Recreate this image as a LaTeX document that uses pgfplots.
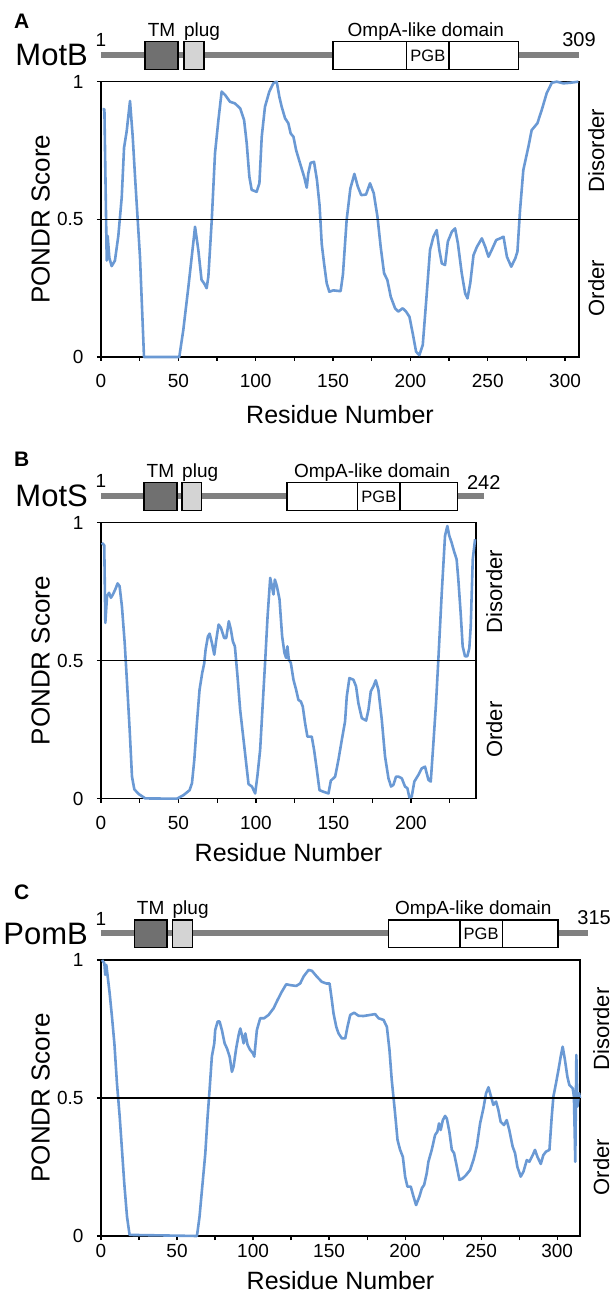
\documentclass[border=0pt]{standalone}
\usepackage{fontspec}
\setmainfont{Liberation Sans}
\usepackage{pgfplots}
\pgfplotsset{compat=1.18}
\definecolor{pondr}{RGB}{106,153,212}
\definecolor{bargray}{RGB}{128,128,128}
\definecolor{tmgray}{RGB}{112,112,112}
\definecolor{pluggray}{RGB}{212,212,212}
\newcommand\fs[1]{\fontsize{#1}{#1}\selectfont}

\pgfplotsset{
  pondrax/.style={
    scale only axis, clip=false, anchor=south west,
    ymin=0, ymax=1, xmin=0,
    ytick={0,0.5,1}, yticklabels={0,0.5,1},
    tick align=outside,
    major tick length=4pt, minor tick length=4pt,
    xtick pos=left, ytick pos=left,
    axis line style={line width=1.4pt},
    every tick/.style={black, line width=1.2pt},
    every minor tick/.style={black, line width=1.2pt},
    tick label style={font=\fs{19}},
    /pgf/number format/assume math mode=true,
    yticklabel style={xshift=-10pt},
  },
  pondrline/.style={pondr, line width=2.6pt, line join=round, no marks},
  hline/.style={black, line width=1.5pt, no marks},
}

% domain diagram: #1 bar end, #2-#3 TM, #4-#5 plug, #6-#7 OmpA, #8-#9 PGB
\newcommand\domains[9]{%
  \draw[bargray, line width=6pt] (axis cs:0,1.097) -- (axis cs:#1,1.097);
  \draw[line width=1.3pt, fill=tmgray] (axis cs:#2,1.045) rectangle (axis cs:#3,1.145);
  \draw[line width=1.3pt, fill=pluggray] (axis cs:#4,1.045) rectangle (axis cs:#5,1.145);
  \draw[line width=1.3pt, fill=white] (axis cs:#6,1.045) rectangle (axis cs:#7,1.145);
  \draw[line width=1.3pt] (axis cs:#8,1.045) -- (axis cs:#8,1.145)
                          (axis cs:#9,1.045) -- (axis cs:#9,1.145);
  \node[inner sep=0, anchor=base, font=\fs{19}] at ([yshift=5pt]axis cs:{(#2+#3)/2},1.145) {TM};
  \node[inner sep=0, anchor=base west, font=\fs{19}] at ([yshift=5pt]axis cs:#4,1.145) {plug};
  \node[inner sep=0, anchor=base, font=\fs{19}] at ([yshift=5pt]axis cs:{(#6+#7)/2},1.145) {OmpA-like domain};
  \node[inner sep=0, font=\fs{16.5}] at (axis cs:{(#8+#9)/2},1.095) {PGB};
  \node[inner sep=0, anchor=base, font=\fs{19}] at ([yshift=8pt]axis cs:0,1.097) {1};
}
% #1 right-label shift, #2 x-label baseline shift
\newcommand\sidelabels[2]{%
  \node[inner sep=0, anchor=south, rotate=90, font=\fs{26}] at ([xshift=-51pt]rel axis cs:0,0.5) {PONDR Score};
  \node[inner sep=0, anchor=base, font=\fs{25}] at ([yshift=#2]rel axis cs:0.5,0) {Residue Number};
  \node[inner sep=0, anchor=north, rotate=90, font=\fs{22}] at ([xshift=#1]rel axis cs:1,0.75) {Disorder};
  \node[inner sep=0, anchor=north, rotate=90, font=\fs{22}] at ([xshift=#1]rel axis cs:1,0.25) {Order};
}

\begin{document}
\begin{tikzpicture}
\useasboundingbox (0,0) rectangle (612pt,1303pt);

% ---------------- A: MotB
\begin{axis}[pondrax, at={(101pt,946pt)}, width=478pt, height=275.3pt,
  xmax=309, xtick={0,50,...,300}, minor xtick={25,75,...,275},
  xticklabel style={yshift=-10pt}]
\addplot[pondrline] coordinates {
(1,0.90) (2.2,0.90) (3.7,0.35) (4.3,0.44) (5.4,0.36) (6.9,0.33) (9,0.35) (11.2,0.44)
(13.4,0.58) (14.9,0.76) (16.6,0.82) (18.75,0.93) (20.5,0.80) (22,0.655) (25.2,0.364)
(27.8,0) (50.6,0) (53.2,0.098) (56.5,0.255) (60.8,0.473) (62.9,0.389) (65,0.28)
(66.6,0.268) (68.3,0.25) (69.4,0.292) (71.6,0.498) (73.7,0.74) (75.9,0.861) (78,0.964)
(80.2,0.952) (83.4,0.927) (86.6,0.921) (90,0.903) (92.5,0.861) (94.2,0.776) (95.9,0.655)
(97.4,0.607) (100.6,0.60) (102.4,0.631) (103.9,0.80) (106,0.909) (108.8,0.964)
(111.4,0.994) (113.6,1.0) (115.3,0.945) (116.8,0.909) (119,0.867) (121.1,0.849)
(122.6,0.812) (124.4,0.80) (126.1,0.752) (128.7,0.703) (131.3,0.655) (133,0.615)
(134,0.667) (135.5,0.705) (137.7,0.709) (139.6,0.643) (141.3,0.55) (142.7,0.41)
(144.2,0.34) (145.9,0.268) (147.6,0.237) (150.2,0.242) (154.9,0.239) (156.4,0.3)
(158.8,0.498) (161.2,0.612) (163.8,0.665) (166,0.619) (168.2,0.588) (171.3,0.59)
(173.9,0.631) (176.3,0.595) (178.7,0.51) (180.8,0.40) (183,0.304) (185.1,0.28)
(187.3,0.219) (190.1,0.177) (192.2,0.165) (195,0.177) (197.2,0.165) (199.4,0.146)
(201.5,0.086) (203.7,0.019) (205.8,0.007) (208,0.044) (210.1,0.195) (212.7,0.389)
(214.9,0.437) (217,0.461) (218.7,0.389) (220.3,0.34) (222.4,0.334) (224.2,0.419)
(226.8,0.455) (228.9,0.467) (230.7,0.413) (233.2,0.304) (235.4,0.231) (236.9,0.213)
(238.7,0.268) (240.8,0.37) (243,0.40) (246.2,0.431) (248.4,0.40) (250.5,0.364)
(252.6,0.389) (255.5,0.425) (258.1,0.431) (260.2,0.437) (262.4,0.364) (265.2,0.328)
(267.8,0.358) (269.2,0.383) (270.9,0.534) (273,0.679) (276.3,0.764) (278.4,0.824)
(282.1,0.849) (284.9,0.897) (288.1,0.958) (291.4,0.996) (294.6,1.0) (298.9,0.994)
(303.2,0.996) (308.6,1.0)
};
\addplot[hline] coordinates {(0,0.5) (309,0.5)};
\domains{309}{28.4}{49.8}{53.6}{66.6}{150}{270}{197.6}{225}
\node[inner sep=0, anchor=base, font=\fs{20}] at ([yshift=8pt]axis cs:309,1.097) {309};
\node[inner sep=0, anchor=base east, font=\fs{31}] at ([xshift=-13pt,yshift=-11pt]axis cs:0,1.097) {MotB};
\sidelabels{9pt}{-67pt}
\end{axis}

% ---------------- B: MotS
\begin{axis}[pondrax, at={(101pt,504.3pt)}, width=375pt, height=276pt,
  xmax=242, xtick={0,50,...,200}, minor xtick={25,75,...,225},
  xticklabel style={yshift=-10pt}]
\addplot[pondrline] coordinates {
(0.6,0.927) (2.1,0.918) (2.8,0.637) (3.9,0.734) (5.2,0.746) (6.4,0.728) (7.7,0.74)
(9.2,0.758) (10.7,0.78) (12,0.77) (13.5,0.697) (15.3,0.564) (16.8,0.419) (18.5,0.249)
(20,0.08) (21.5,0.034) (24.3,0.017) (28.6,0.001) (49,0) (53.3,0.013) (57.2,0.031)
(58.7,0.056) (60.2,0.14) (61.9,0.274) (63.6,0.395) (65.3,0.455) (66.6,0.49) (67.5,0.54)
(69,0.588) (70.1,0.598) (71.6,0.564) (73.1,0.522) (74.4,0.576) (75.9,0.631) (77.4,0.619)
(79.5,0.582) (80.8,0.582) (82.5,0.643) (83.8,0.613) (85.1,0.57) (86.4,0.552) (88.1,0.443)
(89.8,0.322) (92,0.213) (93.7,0.128) (95.2,0.053) (97.4,0.044) (99.5,0.019) (101,0.086)
(102.7,0.177) (104.4,0.346) (106,0.504) (107.5,0.661) (109.2,0.80) (110.3,0.77)
(111.3,0.74) (112.2,0.794) (113.5,0.77) (115.2,0.722) (116.9,0.588) (118.4,0.528)
(119.5,0.51) (120.3,0.552) (121.2,0.504) (122.5,0.492) (124.2,0.431) (125.9,0.395)
(127.4,0.358) (129,0.352) (130.2,0.334) (131.7,0.274) (133.2,0.225) (136,0.225)
(137.5,0.177) (139.3,0.104) (141,0.031) (143.6,0.025) (146.8,0.019) (148.3,0.065)
(151.1,0.08) (153.2,0.14) (155.4,0.213) (157.5,0.28) (158.6,0.37) (160.3,0.437)
(162.9,0.431) (164.6,0.407) (166.1,0.346) (168.3,0.292) (171.1,0.283) (172.6,0.322)
(174.1,0.389) (175.8,0.407) (177.3,0.429) (179,0.395) (181.2,0.286) (183.3,0.153)
(185.5,0.074) (187.2,0.044) (188.7,0.05) (190.4,0.08) (191.9,0.08) (194.1,0.074)
(196.2,0.044) (197.7,0.038) (199,0.005) (200.5,0.007) (202.2,0.062) (204.8,0.086)
(207,0.11) (209.1,0.116) (211.3,0.068) (212.8,0.062) (214.5,0.201) (216.2,0.346)
(217.7,0.504) (219.9,0.746) (222,0.952) (223.5,0.988) (224.8,0.952) (226.3,0.927)
(227.8,0.897) (229.5,0.867) (230.6,0.794) (232.1,0.673) (233.4,0.552) (234.9,0.516)
(236.4,0.516) (237.7,0.546) (238.6,0.625) (239.9,0.867) (241.4,0.94)
};
\addplot[hline] coordinates {(0,0.5) (242,0.5)};
\domains{247}{27.7}{49}{52.3}{65}{120}{230}{165.6}{193}
\node[inner sep=0, anchor=base, font=\fs{20}] at ([yshift=8pt]axis cs:247,1.093) {242};
\node[inner sep=0, anchor=base east, font=\fs{31}] at ([xshift=-13pt,yshift=-11pt]axis cs:0,1.097) {MotS};
\sidelabels{10pt}{-63pt}
\end{axis}

% ---------------- C: PomB
\begin{axis}[pondrax, at={(101pt,67pt)}, width=479pt, height=276pt,
  xmax=315, xtick={0,50,...,300}, minor xtick={25,75,...,275},
  xticklabel style={yshift=-1pt}]
\addplot[pondrline] coordinates {
(0.7,1.0) (2.2,0.988) (2.8,0.946) (3.5,0.982) (4.4,0.94) (5.7,0.879) (7.2,0.795)
(8.8,0.698) (10.5,0.553) (12.3,0.432) (13.8,0.312) (15.3,0.191) (17.1,0.07) (18.8,0.004)
(63.1,0) (64.8,0.07) (66.4,0.167) (68.6,0.30) (70.1,0.432) (71.4,0.529) (72.9,0.65)
(74.5,0.698) (75.1,0.746) (76.7,0.777) (78,0.777) (79.5,0.746) (81.3,0.698) (82.8,0.68)
(84.6,0.65) (86.1,0.595) (87.2,0.614) (88.9,0.68) (90.5,0.728) (91.6,0.752) (92.7,0.728)
(93.8,0.698) (94.9,0.734) (96.4,0.692) (98.1,0.674) (99.9,0.662) (100.8,0.65) (102.5,0.746)
(104.7,0.789) (107.3,0.789) (110.2,0.801) (113.5,0.825) (116.1,0.855) (118.9,0.885)
(121.8,0.912) (124.4,0.909) (128.4,0.906) (131,0.915) (133.2,0.94) (136.5,0.964)
(138.7,0.961) (141.9,0.94) (145.2,0.921) (148.1,0.915) (150.3,0.915) (151.8,0.855)
(152.9,0.807) (154.7,0.758) (156.2,0.734) (158.4,0.716) (160.6,0.716) (162.1,0.758)
(163.9,0.801) (166.5,0.809) (169.3,0.798) (172.6,0.797) (177,0.801) (180.3,0.804)
(182.5,0.789) (185.8,0.783) (188,0.758) (189.7,0.674) (191.2,0.565) (192.3,0.505)
(193.4,0.444) (195,0.348) (196.7,0.312) (198.5,0.287) (200,0.215) (201.5,0.179)
(203.7,0.179) (205.5,0.143) (207.2,0.112) (209.4,0.143) (211,0.173) (212.5,0.185)
(214.2,0.227) (215.3,0.269) (217.5,0.312) (219.7,0.366) (221.2,0.378) (222.3,0.408)
(223.4,0.384) (224.8,0.42) (226.3,0.435) (227.4,0.426) (229.1,0.378) (230.7,0.312)
(232.2,0.30) (234,0.251) (235.7,0.203) (237.9,0.209) (240.1,0.221) (242.7,0.239)
(244.9,0.275) (247.1,0.324) (249.3,0.408) (251.5,0.463) (253.2,0.517) (254.8,0.539)
(256.5,0.505) (258,0.475) (259.8,0.487) (261.3,0.457) (262.8,0.414) (265,0.402)
(266.8,0.42) (268.5,0.384) (270.7,0.324) (272.3,0.30) (273.8,0.251) (276,0.215)
(277.8,0.233) (280,0.275) (281.7,0.269) (283.9,0.293) (285.4,0.312) (287,0.287)
(289.2,0.261) (290.9,0.293) (292.7,0.306) (294.9,0.312) (296.4,0.432) (297.5,0.505)
(299.2,0.553) (300.8,0.601) (302.3,0.65) (303.6,0.686) (305.1,0.638) (306.7,0.577)
(308,0.547) (310.2,0.535) (311,0.505) (311.9,0.269) (312.6,0.656) (313.3,0.469)
(314.4,0.517) (315,0.50)
};
\addplot[hline] coordinates {(0,0.5) (315,0.5)};
\domains{320}{21.8}{43.5}{47}{60}{189.2}{300.5}{236}{264}
\node[inner sep=0, anchor=base east, font=\fs{31}] at ([xshift=-13pt,yshift=-11pt]axis cs:0,1.097) {PomB};
\sidelabels{13pt}{-53pt}
\end{axis}

\node[inner sep=0, anchor=base east, font=\fs{20}] at (611pt,378pt) {315};
\node[inner sep=0, anchor=base west, font=\fs{21}\bfseries] at (14pt,1274.5pt) {A};
\node[inner sep=0, anchor=base west, font=\fs{21}\bfseries] at (14pt,836pt) {B};
\node[inner sep=0, anchor=base west, font=\fs{21}\bfseries] at (14pt,403pt) {C};
\end{tikzpicture}
\end{document}
